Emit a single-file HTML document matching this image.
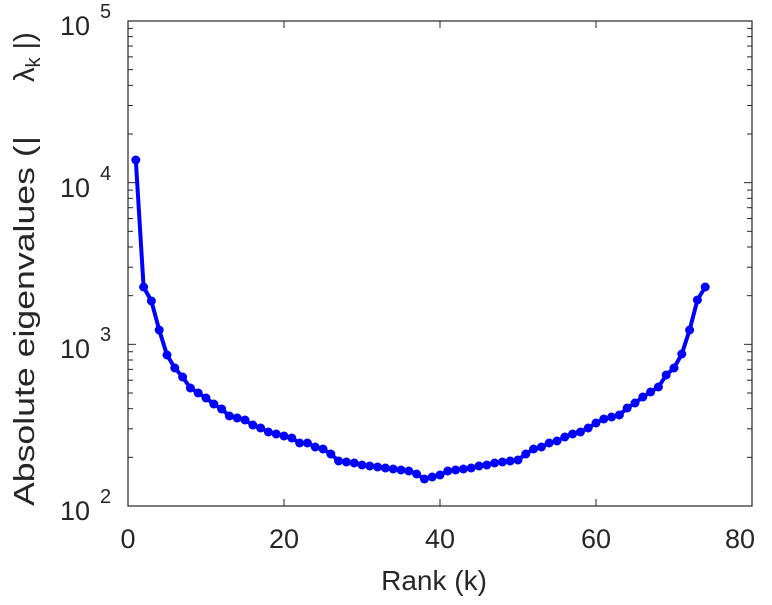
<!DOCTYPE html>
<html><head><style>body{margin:0;background:#fff}svg text{font-family:"Liberation Sans",sans-serif;fill:#262626}</style></head>
<body>
<svg id="s" width="772" height="600" xmlns="http://www.w3.org/2000/svg">
<rect x="128" y="21" width="624" height="485" fill="#fff" stroke="#262626" stroke-width="1.2"/>
<g id="ticks" stroke="#262626" stroke-width="1"></g>
<g font-size="27">
<text x="60" y="520">10</text><text x="100" y="503" font-size="20">2</text>
<text x="60" y="358">10</text><text x="100" y="341" font-size="20">3</text>
<text x="60" y="197">10</text><text x="100" y="180" font-size="20">4</text>
<text x="60" y="35">10</text><text x="100" y="18" font-size="20">5</text>
<text x="128" y="548" text-anchor="middle">0</text>
<text x="284" y="548" text-anchor="middle">20</text>
<text x="440" y="548" text-anchor="middle">40</text>
<text x="596" y="548" text-anchor="middle">60</text>
<text x="740" y="548" text-anchor="middle">80</text>
<text x="434" y="590" text-anchor="middle" font-size="28">Rank (k)</text>
<text transform="translate(34,506) rotate(-90)" font-size="29" textLength="370" lengthAdjust="spacingAndGlyphs">Absolute eigenvalues (|</text>
<text transform="translate(34,82) rotate(-90)" font-size="29">λ<tspan font-size="20" dy="6">k</tspan><tspan dy="-6"> |)</tspan></text>
</g>
<polyline id="ln" fill="none" stroke="#0000ff" stroke-width="4" stroke-linejoin="round"/>
<g id="pts" fill="#0000ff"></g>
</svg>
<script>
var ys=[160,287,301,330,355,368,377,388,393,398,404,409,416,418,420,425,428,432,434,436,438,443,443,447,449,454,461,462,463,465,466,467,468,469,470,471,474,479,475,471,470,469,468,466,465,463,462,461,460,454,449,447,443,441,437,434,432,428,423,419,417,415,408,403,397,392,387,375,368,354,330,300,287];
ys.splice(38,0,477);
var p="",c="";
ys.forEach(function(y,i){var x=128+(i+1)*7.8;p+=x+","+y+" ";c+='<circle cx="'+x+'" cy="'+y+'" r="4.5"/>';});
document.getElementById("ln").setAttribute("points",p);
document.getElementById("pts").innerHTML=c;
var t="";
for(var d=0;d<3;d++){var base=506-d*161.67;
 for(var m=1;m<10;m++){var y=base-Math.log10(m)*161.67;var L=m==1?8:5;
  t+='<line x1="128" x2="'+(128+L)+'" y1="'+y+'" y2="'+y+'"/><line x1="752" x2="'+(752-L)+'" y1="'+y+'" y2="'+y+'"/>';}}
for(var k=20;k<=60;k+=20){var x=128+k*7.8;t+='<line x1="'+x+'" x2="'+x+'" y1="506" y2="499"/><line x1="'+x+'" x2="'+x+'" y1="21" y2="28"/>';}
document.getElementById("ticks").innerHTML=t;
</script>
</body></html>
